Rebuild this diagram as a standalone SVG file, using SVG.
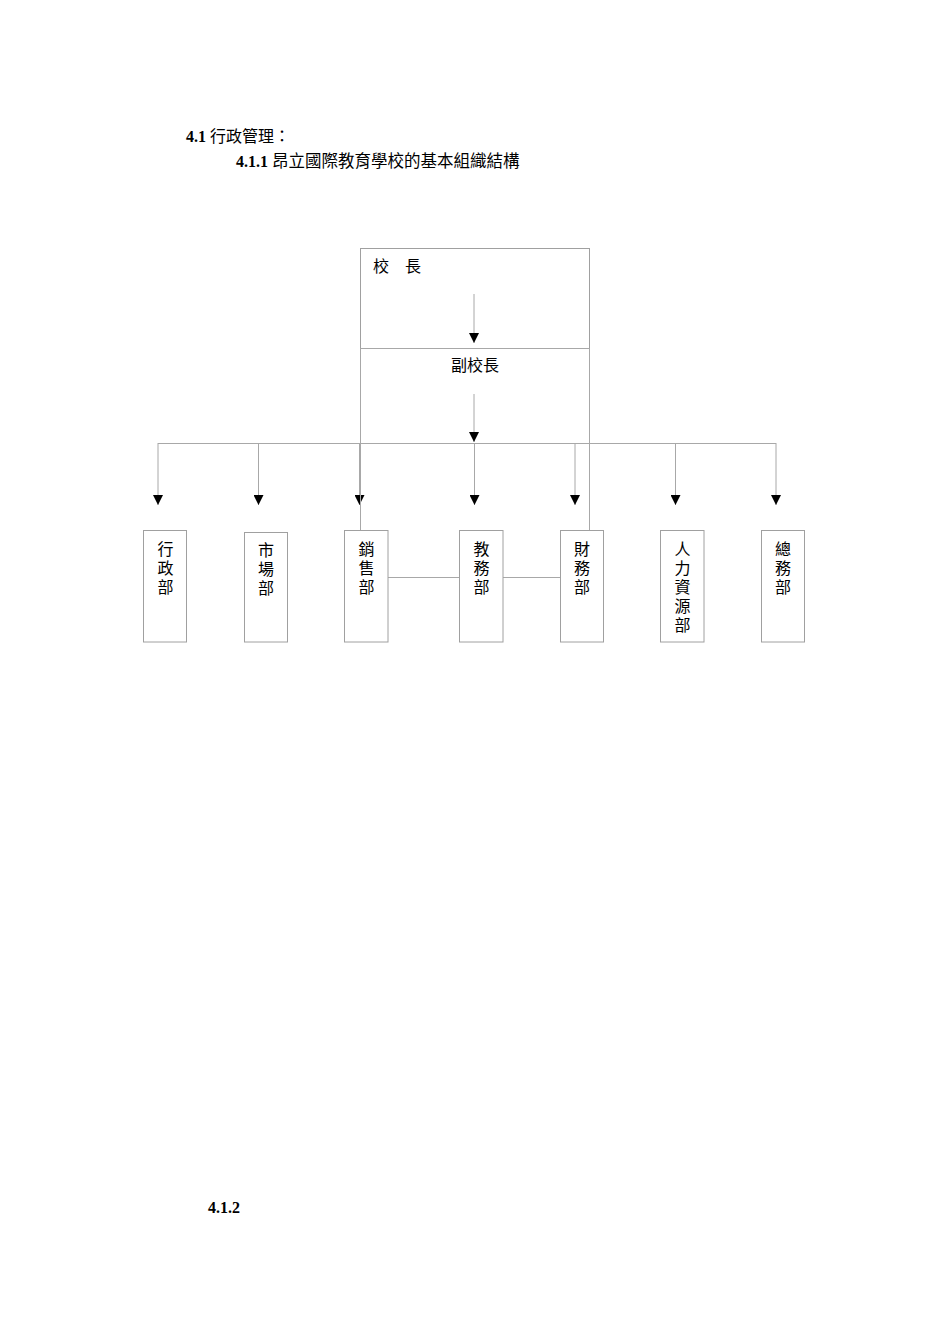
<svg xmlns="http://www.w3.org/2000/svg" width="950" height="1344" viewBox="0 0 950 1344">
<style>
.bg{fill:#ffffff}
.t{font-family:"Liberation Serif","Noto Sans CJK TC",serif;font-size:16px;fill:#000}
.b{font-weight:bold}
.box{fill:#ffffff;stroke:#a0a0a0;stroke-width:1}
.frame{fill:none;stroke:#a0a0a0;stroke-width:1}
.ln{stroke:#a8a8a8;stroke-width:1;fill:none}
.bt{font-family:"Liberation Serif","Noto Sans CJK TC",serif;font-size:16px;fill:#000;text-anchor:middle}
</style>
<defs>
<marker id="ah" markerUnits="userSpaceOnUse" markerWidth="12" markerHeight="10" refX="10" refY="5" orient="auto">
<path d="M0,0 L10,5 L0,10 z" fill="#000"/>
</marker>
</defs>
<rect class="bg" x="0" y="0" width="950" height="1344"/>
<g id="heading">
<text class="t" x="186" y="142"><tspan class="b">4.1</tspan> 行政管理：</text>
<text class="t" x="236" y="167"><tspan class="b">4.1.1</tspan> <tspan font-size="16.5">昂立國際教育學校的基本組織結構</tspan></text>
<text class="t b" x="208" y="1213">4.1.2</text>
</g>
<g id="principal">
<rect class="frame" x="360.5" y="248.5" width="229" height="100"/>
<text class="t" x="373" y="272">校　長</text>
</g>
<g id="vice">
<line class="ln" x1="360.5" y1="348.5" x2="589.5" y2="348.5"/>
<text class="bt" x="475" y="371">副校長</text>
</g>
<g id="connectors">
<line class="ln" x1="474" y1="294" x2="474" y2="343" marker-end="url(#ah)"/>
<line class="ln" x1="474" y1="394" x2="474" y2="442" marker-end="url(#ah)"/>
<line class="ln" x1="158" y1="443.5" x2="776" y2="443.5"/>
<line class="ln" x1="158" y1="443" x2="158" y2="505" marker-end="url(#ah)"/>
<line class="ln" x1="258.5" y1="443" x2="258.5" y2="505" marker-end="url(#ah)"/>
<line class="ln" x1="359.5" y1="443" x2="359.5" y2="505" marker-end="url(#ah)"/>
<line class="ln" x1="474.5" y1="443" x2="474.5" y2="505" marker-end="url(#ah)"/>
<line class="ln" x1="575" y1="443" x2="575" y2="505" marker-end="url(#ah)"/>
<line class="ln" x1="675.5" y1="443" x2="675.5" y2="505" marker-end="url(#ah)"/>
<line class="ln" x1="776" y1="443" x2="776" y2="505" marker-end="url(#ah)"/>
<line class="ln" x1="360.5" y1="348" x2="360.5" y2="531"/>
<line class="ln" x1="589.5" y1="348" x2="589.5" y2="531"/>
<line class="ln" x1="388" y1="577.5" x2="460" y2="577.5"/>
<line class="ln" x1="503" y1="577.5" x2="561" y2="577.5"/>
</g>
<g id="dept-admin">
<rect class="box" x="143.5" y="530.5" width="43" height="111.5"/>
<text class="bt" x="165.5" y="555">行</text>
<text class="bt" x="165.5" y="574">政</text>
<text class="bt" x="165.5" y="593">部</text>
</g>
<g id="dept-market">
<rect class="box" x="244.5" y="532.5" width="43" height="109.5"/>
<text class="bt" x="266" y="556">市</text>
<text class="bt" x="266" y="575">場</text>
<text class="bt" x="266" y="594">部</text>
</g>
<g id="dept-sales">
<rect class="box" x="344.5" y="530.5" width="43.5" height="111.5"/>
<text class="bt" x="366.5" y="555">銷</text>
<text class="bt" x="366.5" y="574">售</text>
<text class="bt" x="366.5" y="593">部</text>
</g>
<g id="dept-academic">
<rect class="box" x="459.5" y="530.5" width="43.5" height="111.5"/>
<text class="bt" x="481.5" y="555">教</text>
<text class="bt" x="481.5" y="574">務</text>
<text class="bt" x="481.5" y="593">部</text>
</g>
<g id="dept-finance">
<rect class="box" x="560.5" y="530.5" width="43" height="111.5"/>
<text class="bt" x="582" y="555">財</text>
<text class="bt" x="582" y="574">務</text>
<text class="bt" x="582" y="593">部</text>
</g>
<g id="dept-hr">
<rect class="box" x="660.5" y="530.5" width="43.5" height="111.5"/>
<text class="bt" x="682.5" y="555">人</text>
<text class="bt" x="682.5" y="574">力</text>
<text class="bt" x="682.5" y="593">資</text>
<text class="bt" x="682.5" y="612">源</text>
<text class="bt" x="682.5" y="631">部</text>
</g>
<g id="dept-general">
<rect class="box" x="761.5" y="530.5" width="43" height="111.5"/>
<text class="bt" x="783" y="555">總</text>
<text class="bt" x="783" y="574">務</text>
<text class="bt" x="783" y="593">部</text>
</g>
</svg>
